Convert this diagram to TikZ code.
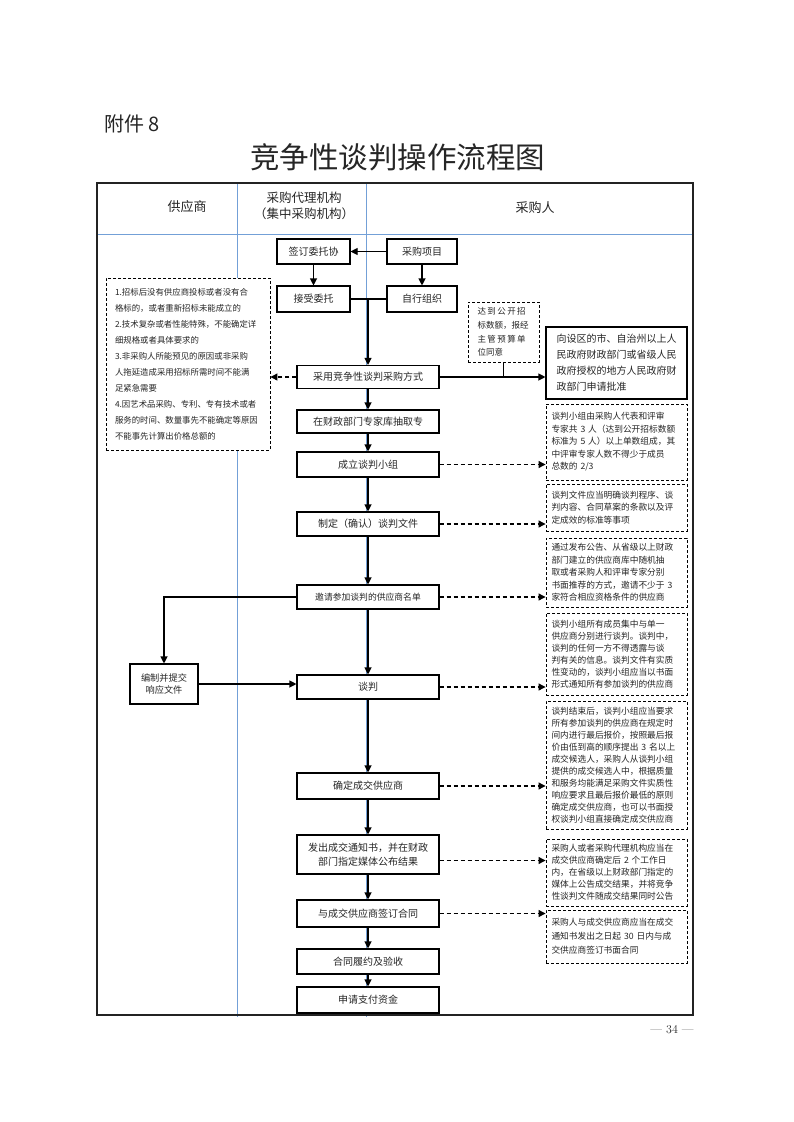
\documentclass[tikz,border=0pt]{standalone}
\usepackage{fontspec}
\newfontfamily\cjk{Noto Sans CJK SC}
\usetikzlibrary{arrows.meta}
\usetikzlibrary{positioning}

\definecolor{laneblue}{RGB}{115,160,215}
\definecolor{framegray}{RGB}{35,35,35}

\begin{document}
\begin{tikzpicture}[
    x=1pt, y=-1pt,
    >={Triangle[length=7pt,width=7pt]},
    every node/.style={font=\cjk\fontsize{10}{14}\selectfont, text=black!85},
    process/.style={rectangle, draw, fill=white, line width=1.1pt, minimum width=142pt, minimum height=24pt, align=center, inner sep=2pt},
    note/.style={rectangle, draw, fill=white, dash pattern=on 3pt off 2pt, line width=0.9pt, align=left, inner sep=2pt,
        font=\cjk\fontsize{8.7}{12.5}\selectfont, minimum width=141pt, text width=130pt},
    flow/.style={->, line width=1.1pt},
    hint/.style={->, dash pattern=on 4pt off 3pt, line width=1.1pt},
    lane/.style={laneblue, line width=0.9pt}
]
\fill[white] (0,0) rectangle (793,1122);
\useasboundingbox (0,0) rectangle (793,1122);

% Headings
\node[anchor=west, font=\cjk\fontsize{20}{24}\selectfont] (attach) at (101,124) {附件 8};
\node[font=\cjk\fontsize{29.5}{32}\selectfont] (title) at (397.5,157) {竞争性谈判操作流程图};
\node[font=\rmfamily\fontsize{12}{14}\selectfont] (pageNo) at (672,1030) {— 34 —};

% Lanes
\draw[lane] (97,234) -- (693,234);
\draw[lane] (237,183) -- (237,1017);
\draw[lane] (366,183) -- (366,1017);
\draw[framegray, line width=1.6pt] (97,183) rectangle (693,1015);
\node[font=\cjk\fontsize{13}{16}\selectfont] (hdSupplier) at (187,207) {供应商};
\node[font=\cjk\fontsize{12.5}{16}\selectfont, align=center] (hdAgency) at (304,206)
    {采购代理机构\\{\addfontfeature{RawFeature=+halt}（集中采购机构）}};
\node[font=\cjk\fontsize{13}{16}\selectfont] (hdBuyer) at (535,208) {采购人};

% Nodes
\node[process, minimum width=73pt, minimum height=25pt] (signAgree) at (313.5,251.5) {签订委托协};
\node[process, minimum width=70pt, minimum height=25pt] (project) at (422,251.5) {采购项目};
\node[process, minimum width=73pt, minimum height=26pt] (accept) at (313.5,299) {接受委托};
\node[process, minimum width=70pt, minimum height=26pt] (selfOrg) at (422,299) {自行组织};
\node[process, minimum height=23pt] (method) at (368,377) {采用竞争性谈判采购方式};
\node[process, minimum height=23pt] (expert) at (368,421.5) {在财政部门专家库抽取专};
\node[process, minimum height=25pt] (team) at (368,464.5) {成立谈判小组};
\node[process] (negDoc) at (368,524) {制定（确认）谈判文件};
\node[process, font=\cjk\fontsize{8.8}{11}\selectfont] (invite) at (368,597) {邀请参加谈判的供应商名单};
\node[process] (negotiate) at (368,687) {谈判};
\node[process, minimum height=26pt] (decide) at (368,786) {确定成交供应商};
\node[process, minimum height=39pt] (notice) at (368,854.5) {发出成交通知书，并在财政\\部门指定媒体公布结果};
\node[process, minimum height=27pt] (contract) at (368,913.5) {与成交供应商签订合同};
\node[process, minimum height=25pt] (perform) at (368,961.5) {合同履约及验收};
\node[process, minimum height=26pt] (pay) at (368,1000) {申请支付资金};

\node[process, minimum width=68pt, minimum height=40pt, font=\cjk\fontsize{9.2}{12.5}\selectfont] (submit) at (164,684) {编制并提交\\响应文件};

\node[note, minimum width=164pt, minimum height=172pt, text width=146pt, font=\cjk\fontsize{8.4}{16}\selectfont] (cases) at (188,364)
    {1.招标后没有供应商投标或者没有合\\格标的，或者重新招标未能成立的\\2.技术复杂或者性能特殊，不能确定详\\细规格或者具体要求的\\3.非采购人所能预见的原因或非采购\\人拖延造成采用招标所需时间不能满\\足紧急需要\\4.因艺术品采购、专利、专有技术或者\\服务的时间、数量事先不能确定等原因\\不能事先计算出价格总额的};
\node[note, minimum width=71pt, minimum height=60pt, text width=52pt, font=\cjk\fontsize{8.5}{13.7}\selectfont] (budget) at (503.5,332)
    {达\,到\,公\,开\,招\\标数额，报经\\主\,管\,预\,算\,单\\位同意};
\node[process, minimum width=141pt, minimum height=72pt, align=left, font=\cjk\fontsize{10}{16}\selectfont] (approve) at (616.5,363)
    {向设区的市、自治州以上人\\民政府财政部门或省级人民\\政府授权的地方人民政府财\\政部门申请批准};

\node[note, minimum height=76pt] (noteTeam) at (616.5,442)
    {谈判小组由采购人代表和评审\\专家共 3 人（达到公开招标数额\\标准为 5 人）以上单数组成，其\\中评审专家人数不得少于成员\\总数的 2/3};
\node[note, minimum height=47pt] (noteDoc) at (616.5,507.5)
    {谈判文件应当明确谈判程序、谈\\判内容、合同草案的条款以及评\\定成效的标准等事项};
\node[note, minimum height=69pt] (noteInvite) at (616.5,572.5)
    {通过发布公告、从省级以上财政\\部门建立的供应商库中随机抽\\取或者采购人和评审专家分别\\书面推荐的方式，邀请不少于 3\\家符合相应资格条件的供应商};
\node[note, minimum height=82pt, font=\cjk\fontsize{8.7}{12}\selectfont] (noteNeg) at (616.5,654)
    {谈判小组所有成员集中与单一\\供应商分别进行谈判。谈判中，\\谈判的任何一方不得透露与谈\\判有关的信息。谈判文件有实质\\性变动的，谈判小组应当以书面\\形式通知所有参加谈判的供应商};
\node[note, minimum height=128pt, font=\cjk\fontsize{8.7}{12}\selectfont] (noteDecide) at (616.5,765)
    {谈判结束后，谈判小组应当要求\\所有参加谈判的供应商在规定时\\间内进行最后报价，按照最后报\\价由低到高的顺序提出 3 名以上\\成交候选人，采购人从谈判小组\\提供的成交候选人中，根据质量\\和服务均能满足采购文件实质性\\响应要求且最后报价最低的原则\\确定成交供应商，也可以书面授\\权谈判小组直接确定成交供应商};
\node[note, minimum height=67pt, font=\cjk\fontsize{8.7}{12}\selectfont] (noteNotice) at (616.5,872.5)
    {采购人或者采购代理机构应当在\\成交供应商确定后 2 个工作日\\内，在省级以上财政部门指定的\\媒体上公告成交结果，并将竞争\\性谈判文件随成交结果同时公告};
\node[note, minimum height=53pt, font=\cjk\fontsize{8.7}{14}\selectfont] (noteContract) at (616.5,936.5)
    {采购人与成交供应商应当在成交\\通知书发出之日起 30 日内与成\\交供应商签订书面合同};

\coordinate (noticeOut) at ([yshift=-6pt]notice.east);

% Edges
\draw[flow] (project) -- (signAgree);
\draw[flow] (signAgree) -- (accept);
\draw[flow] (project) -- (selfOrg);
\draw[line width=1.1pt] (accept) -- (selfOrg);
\draw[flow] (accept.east -| method.north) -- (method);
\draw[flow] (method) -- (expert);
\draw[flow] (expert) -- (team);
\draw[flow] (team) -- (negDoc);
\draw[flow] (negDoc) -- (invite);
\draw[flow] (invite) -- (negotiate);
\draw[flow] (negotiate) -- (decide);
\draw[flow] (decide) -- (notice);
\draw[flow] (notice) -- (contract);
\draw[flow] (contract) -- (perform);
\draw[flow] (perform) -- (pay);
\draw[flow] (method.east) -- (method.east -| approve.west);
\draw[line width=1.1pt] (budget.south) -- (budget.south |- method.east);
\draw[hint] (method.west) -- (method.west -| cases.east);
\draw[flow] (invite.west) -| (submit.north);
\draw[flow] (submit.east) -- (submit.east -| negotiate.west);
\draw[hint] (team.east) -- (team.east -| noteTeam.west);
\draw[hint] (negDoc.east) -- (negDoc.east -| noteDoc.west);
\draw[hint] (invite.east) -- (invite.east -| noteInvite.west);
\draw[hint] (negotiate.east) -- (negotiate.east -| noteNeg.west);
\draw[hint] (decide.east) -- (decide.east -| noteDecide.west);
\draw[hint] (noticeOut) -- (noticeOut -| noteNotice.west);
\draw[hint] (contract.east) -- (contract.east -| noteContract.west);

\end{tikzpicture}
\end{document}
